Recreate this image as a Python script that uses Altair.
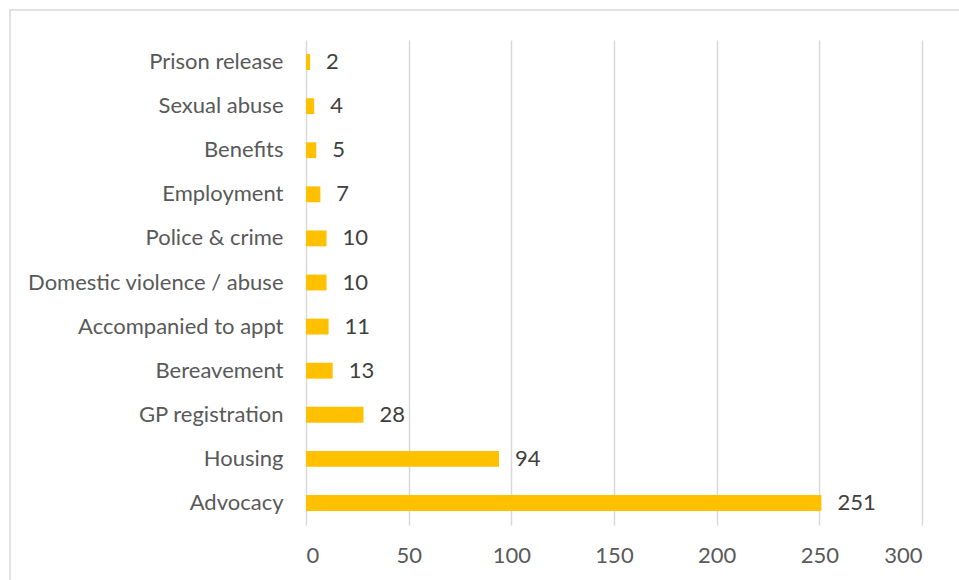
import altair as alt
import pandas as pd

categories = ["Prison release", "Sexual abuse", "Benefits", "Employment", "Police & crime",
              "Domestic violence / abuse", "Accompanied to appt", "Bereavement",
              "GP registration", "Housing", "Advocacy"]
values = [2, 4, 5, 7, 10, 10, 11, 13, 28, 94, 251]
x_ticks = [0, 50, 100, 150, 200, 250, 300]

df = pd.DataFrame({"category": categories, "value": values})

FONT = "Lato"
FS = 22
W, H = 616, 485
LEFT, TOP = 306, 40

y_enc = alt.Y("category:N", sort=categories, title=None,
              scale=alt.Scale(paddingInner=0.64, paddingOuter=0.32),
              axis=alt.Axis(labelFont=FONT, labelFontSize=FS, labelColor="#595959",
                            labelPadding=23, labelLimit=0, ticks=False, domain=False, grid=False))
x_enc = alt.X("value:Q", title=None,
              scale=alt.Scale(domain=[0, 300], nice=False),
              axis=alt.Axis(values=x_ticks, labelFont=FONT, labelFontSize=FS,
                            labelColor="#595959", labelPadding=20, ticks=False,
                            domain=False, grid=True, gridColor="#d9d9d9", gridWidth=1.5))

bars = alt.Chart(df).mark_bar(color="#ffc000").encode(x=x_enc, y=y_enc)
labels = alt.Chart(df).mark_text(align="left", baseline="middle", dx=16, font=FONT,
                                 fontSize=FS, color="#404040").encode(
    x="value:Q", y=alt.Y("category:N", sort=categories), text="value:Q")

border = alt.Chart(pd.DataFrame({"k": [0]})).mark_rect(
    fill=None, stroke="#d9d9d9", strokeWidth=1.5, clip=False).encode(
    x=alt.value(10 - LEFT), x2=alt.value(1000 - LEFT),
    y=alt.value(10 - TOP), y2=alt.value(620 - TOP))

chart = alt.layer(border, bars, labels).properties(
    width=W, height=H,
    background="white",
    autosize=alt.AutoSizeParams(type="none"),
    padding={"left": LEFT, "top": TOP, "right": 959 - LEFT - W, "bottom": 580 - TOP - H},
).configure_view(stroke=None)

chart.save("out.html", embed_options={"renderer": "svg", "actions": False})
